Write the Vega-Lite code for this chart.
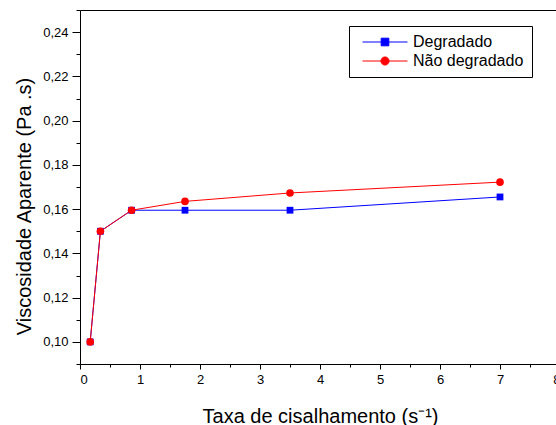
{
  "$schema": "https://vega.github.io/schema/vega-lite/v6.json",
  "width": 476,
  "height": 354,
  "autosize": {"type": "none"},
  "padding": {"left": 80, "top": 10, "right": 0, "bottom": 61},
  "background": "white",
  "config": {
    "view": {"stroke": null},
    "font": "Liberation Sans",
    "axis": {
      "domainColor": "black",
      "tickColor": "black",
      "labelColor": "black",
      "titleColor": "black",
      "grid": false,
      "domainWidth": 1,
      "tickWidth": 1,
      "labelFont": "Liberation Sans",
      "titleFont": "Liberation Sans",
      "titleFontWeight": "normal",
      "labelFontSize": 13
    }
  },
  "data": {
    "values": [
      {"serie": "Degradado", "taxa": 0.17, "visc": 0.100},
      {"serie": "Degradado", "taxa": 0.34, "visc": 0.150},
      {"serie": "Degradado", "taxa": 0.86, "visc": 0.1595},
      {"serie": "Degradado", "taxa": 1.75, "visc": 0.1595},
      {"serie": "Degradado", "taxa": 3.5, "visc": 0.1595},
      {"serie": "Degradado", "taxa": 7.0, "visc": 0.1655},
      {"serie": "Não degradado", "taxa": 0.17, "visc": 0.100},
      {"serie": "Não degradado", "taxa": 0.34, "visc": 0.150},
      {"serie": "Não degradado", "taxa": 0.86, "visc": 0.1595},
      {"serie": "Não degradado", "taxa": 1.75, "visc": 0.1635},
      {"serie": "Não degradado", "taxa": 3.5, "visc": 0.1673},
      {"serie": "Não degradado", "taxa": 7.0, "visc": 0.1722}
    ]
  },
  "layer": [
    {
      "mark": {"type": "line", "strokeWidth": 1},
      "encoding": {
        "x": {
          "field": "taxa", "type": "quantitative",
          "scale": {"domain": [0, 8], "range": [0, 480], "nice": false, "zero": false},
          "axis": {
            "orient": "bottom",
            "values": [0, 1, 2, 3, 4, 5, 6, 7, 8],
            "tickSize": 5,
            "labelPadding": 4,
            "format": "d",
            "title": "Taxa de cisalhamento (s⁻¹)",
            "titleFontSize": 20,
            "titleX": 240,
            "titleY": 58,
            "titleBaseline": "alphabetic",
            "titleAlign": "center"
          }
        },
        "y": {
          "field": "visc", "type": "quantitative",
          "scale": {"domain": [0.09, 0.25], "nice": false, "zero": false},
          "axis": {
            "orient": "left",
            "values": [0.10, 0.12, 0.14, 0.16, 0.18, 0.20, 0.22, 0.24],
            "tickSize": 8,
            "labelPadding": 4,
            "labelExpr": "replace(format(datum.value, '.2f'), '.', ',')",
            "title": "Viscosidade Aparente (Pa .s)",
            "titleFontSize": 20,
            "titleX": -50,
            "titleY": 196,
            "titleAngle": 270,
            "titleBaseline": "alphabetic",
            "titleAlign": "center"
          }
        },
        "color": {
          "field": "serie", "type": "nominal",
          "scale": {"domain": ["Degradado", "Não degradado"], "range": ["#0000ff", "#ff0000"]},
          "legend": {
            "title": null,
            "orient": "none",
            "legendX": 269,
            "legendY": 16,
            "strokeColor": "black",
            "fillColor": "white",
            "padding": 8,
            "symbolSize": 81,
            "symbolOffset": 20,
            "labelOffset": 20,
            "labelFontSize": 16,
            "labelFont": "Liberation Sans",
            "labelColor": "black",
            "rowPadding": 3,
            "symbolStrokeWidth": 1
          }
        }
      }
    },
    {
      "transform": [{"filter": "datum.serie == 'Degradado'"}],
      "mark": {"type": "point", "shape": "square", "filled": true, "opacity": 1, "size": 46},
      "encoding": {
        "x": {
          "field": "taxa", "type": "quantitative",
          "axis": {
            "orient": "bottom",
            "values": [0.5, 1.5, 2.5, 3.5, 4.5, 5.5, 6.5, 7.5],
            "labels": false, "domain": false, "tickSize": 3, "title": null
          }
        },
        "y": {
          "field": "visc", "type": "quantitative",
          "axis": {
            "orient": "left",
            "values": [0.09, 0.11, 0.13, 0.15, 0.17, 0.19, 0.21, 0.23, 0.25],
            "labels": false, "domain": false, "tickSize": 4, "title": null
          }
        },
        "color": {"field": "serie", "type": "nominal"}
      }
    },
    {
      "transform": [{"filter": "datum.serie == 'Não degradado'"}],
      "mark": {"type": "point", "shape": "circle", "filled": true, "opacity": 1, "size": 58},
      "encoding": {
        "x": {"field": "taxa", "type": "quantitative", "axis": null},
        "y": {"field": "visc", "type": "quantitative", "axis": null},
        "color": {"field": "serie", "type": "nominal"}
      }
    },
    {
      "transform": [{"filter": "datum.taxa < 0"}],
      "mark": {"type": "point", "filled": true, "opacity": 1, "size": 81, "strokeWidth": 1},
      "encoding": {
        "x": {
          "field": "taxa", "type": "quantitative",
          "axis": {"orient": "top", "labels": false, "ticks": false, "title": null, "domain": true}
        },
        "y": {"field": "visc", "type": "quantitative", "axis": null},
        "color": {"field": "serie", "type": "nominal"},
        "stroke": {
          "field": "serie", "type": "nominal",
          "scale": {"domain": ["Degradado", "Não degradado"], "range": ["#6f6fff", "#ff6f6f"]}
        },
        "shape": {
          "field": "serie", "type": "nominal",
          "scale": {
            "domain": ["Degradado", "Não degradado"],
            "range": ["M-5,0H5M-0.85,-0.85H0.85V0.85H-0.85Z", "M-5,0H5M0.9,0A0.9,0.9,0,1,1,-0.9,0A0.9,0.9,0,1,1,0.9,0Z"]
          }
        }
      }
    }
  ],
  "resolve": {"axis": {"x": "independent", "y": "independent"}}
}
